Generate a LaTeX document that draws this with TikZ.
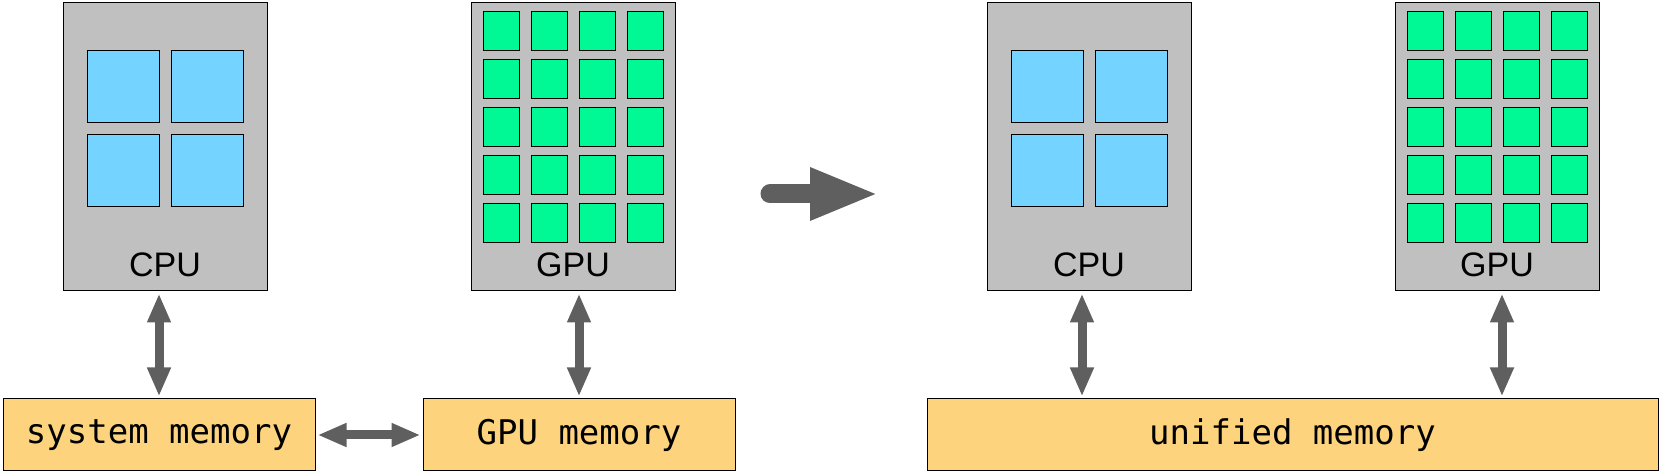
\documentclass[tikz,border=0pt]{standalone}
\usepackage{fontspec}
\setmainfont{Liberation Sans}
\setmonofont{DejaVu Sans Mono}
\usetikzlibrary{arrows.meta,positioning}
\definecolor{procgray}{RGB}{192,192,192}
\definecolor{coreblue}{RGB}{117,212,255}
\definecolor{coregreen}{RGB}{0,249,148}
\definecolor{memyellow}{RGB}{253,212,125}
\definecolor{arrowgray}{RGB}{95,95,95}

\begin{document}
\begin{tikzpicture}[x=1pt,y=1pt,
  proc/.style={draw,line width=1pt,fill=procgray,minimum width=204pt,minimum height=288pt,inner sep=0pt},
  cpucore/.style={draw,line width=1pt,fill=coreblue,minimum size=72pt,inner sep=0pt},
  gpucore/.style={draw,line width=1pt,fill=coregreen,minimum width=36pt,minimum height=39pt,inner sep=0pt},
  mem/.style={draw,line width=1pt,fill=memyellow,minimum height=72pt,inner sep=0pt,font=\ttfamily\fontsize{34}{40}\selectfont},
  lbl/.style={anchor=base,font=\fontsize{34}{40}\selectfont},
  link/.style={draw=arrowgray,line width=9pt,{Triangle[length=29pt,width=22pt]}-{Triangle[length=29pt,width=22pt]},shorten <=2pt,shorten >=2pt},
  bigarrow/.style={draw=arrowgray,line width=19pt,line cap=round,-{Triangle[length=69pt,width=48pt]}}]
\useasboundingbox (0,0) rectangle (1660,473);
\node[proc] (cpuA) at (165,326) {};
\node[proc] (gpuA) at (573,326) {};
\node[proc] (cpuB) at (1089,326) {};
\node[proc] (gpuB) at (1497,326) {};
\foreach \p in {cpuA,cpuB} {
  \foreach \i in {0,1} \foreach \j in {0,1}
    \node[cpucore] (\p-\i\j) at ([shift={(-42+84*\i,60-84*\j)}]\p.center) {};
  \node[lbl] (\p-lbl) at ([yshift=15pt]\p.south) {CPU};
}
\foreach \p in {gpuA,gpuB} {
  \foreach \i in {0,...,3} \foreach \j in {0,...,4}
    \node[gpucore] (\p-\i\j) at ([shift={(-72+48*\i,115.5-48*\j)}]\p.center) {};
  \node[lbl] (\p-lbl) at ([yshift=15pt]\p.south) {GPU};
}
\node[mem,minimum width=312pt] (sysmem) at (159,38) {system memory};
\node[mem,minimum width=312pt] (gpumem) at (579,38) {GPU memory};
\node[mem,minimum width=731pt] (unimem) at (1292.5,38) {unified memory};
\draw[link] (sysmem.north) -- (sysmem.north |- cpuA.south);
\draw[link] (gpumem.north) -- (gpumem.north |- gpuA.south);
\draw[link] (sysmem.east) -- (gpumem.west);
\draw[link] ([xshift=-7pt]cpuB.south) -- ([xshift=-7pt]cpuB.south |- unimem.north);
\draw[link] ([xshift=5pt]gpuB.south) -- ([xshift=5pt]gpuB.south |- unimem.north);
\coordinate (from) at (770,279);
\coordinate (to) at (879,279);
\draw[bigarrow] (from) -- (to);
\end{tikzpicture}
\end{document}
